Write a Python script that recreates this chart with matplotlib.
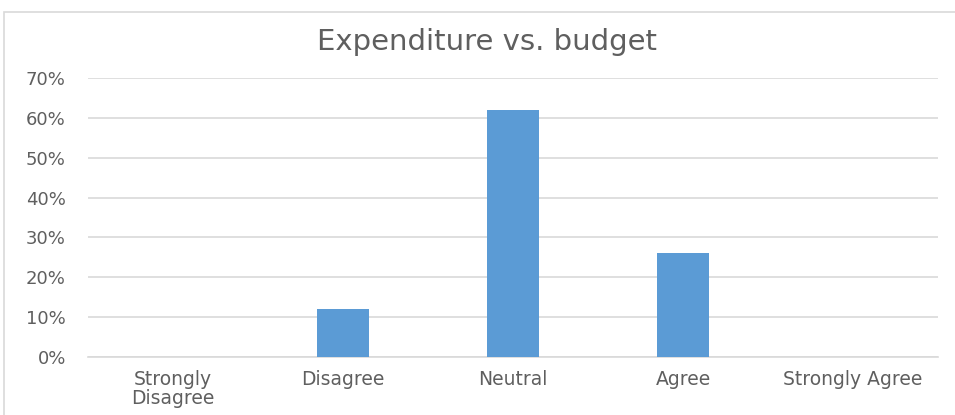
import matplotlib
matplotlib.use("Agg")
import matplotlib.pyplot as plt
from matplotlib.patches import Rectangle
from matplotlib.ticker import PercentFormatter

categories = ["Strongly\nDisagree", "Disagree", "Neutral", "Agree", "Strongly Agree"]
shares = [0, 12, 62, 26, 0]
y_ticks = [0, 10, 20, 30, 40, 50, 60, 70]

plt.rcParams["font.family"] = ["DejaVu Sans"]
text_color = "#5f5f5f"
grid_color = "#D9D9D9"

fig = plt.figure(figsize=(9.55, 4.15), dpi=100)
fig.patches.append(Rectangle((4 / 955, -0.05), 1.2, 1 - 12 / 415 + 0.05,
                             transform=fig.transFigure, fill=False,
                             edgecolor="#D9D9D9", linewidth=1.2))

ax = fig.add_axes([88 / 955, 1 - 357 / 415, (938 - 88) / 955, (357 - 78) / 415])
x = range(len(categories))
ax.bar(x, shares, width=0.31, color="#5B9BD5", zorder=3)

ax.set_xlim(-0.5, len(categories) - 0.5)
ax.set_ylim(0, 70)
ax.set_yticks(y_ticks)
ax.yaxis.set_major_formatter(PercentFormatter(decimals=0))
ax.set_xticks(list(x))
ax.set_xticklabels(categories, linespacing=1.0)
ax.grid(axis="y", color=grid_color, linewidth=1.2, zorder=0)
for side in ["top", "right", "left"]:
    ax.spines[side].set_visible(False)
ax.spines["bottom"].set_color(grid_color)
ax.spines["bottom"].set_linewidth(1.2)
ax.tick_params(axis="both", length=0, colors=text_color)
ax.tick_params(axis="x", pad=9, labelsize=13.5)
ax.tick_params(axis="y", pad=16, labelsize=13)

fig.text(487 / 955, 1 - 42 / 415, "Expenditure vs. budget", ha="center", va="center",
         fontsize=21, color=text_color)

fig.savefig("out.png", dpi=100)
